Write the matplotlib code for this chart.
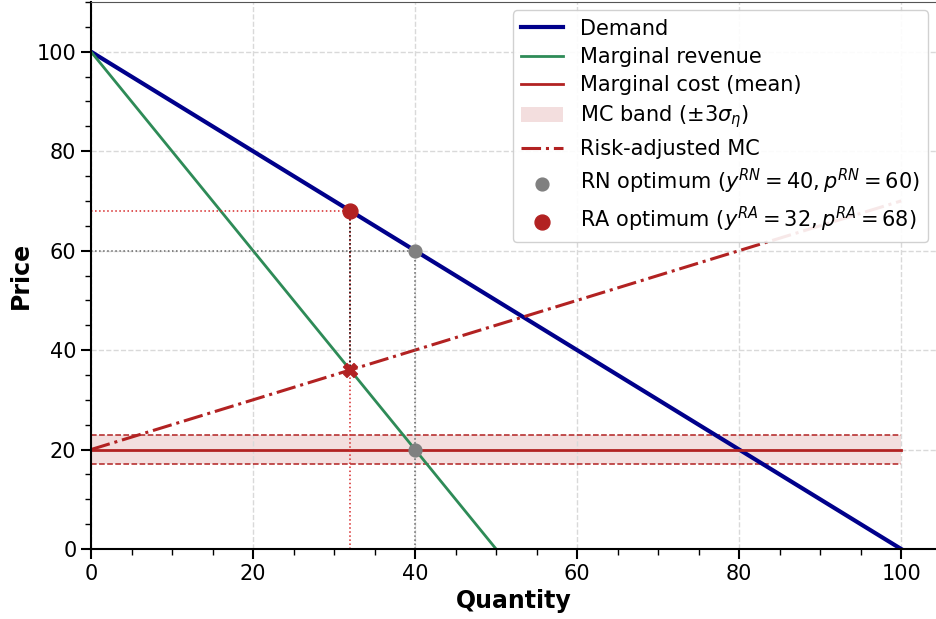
import numpy as np
import matplotlib.pyplot as plt
from matplotlib.ticker import AutoMinorLocator

# model values
y_demand = [0, 100]
p_demand = [100, 0]
y_mr = [0, 50]
p_mr = [100, 0]
y_mc = [0, 100]
mc_mean = [20, 20]
mc_low = [17, 17]
mc_high = [23, 23]
y_ramc = [0, 100]
p_ramc = [20, 70]

y_rn, p_rn, mr_rn = 40, 60, 20
y_ra, p_ra, mc_ra = 32, 68, 36

fig = plt.figure(figsize=(9.36, 6.19), dpi=100)
ax = fig.add_axes([91 / 936, 70 / 619, 845 / 936, 547 / 619])

ax.fill_between(y_mc, mc_low, mc_high, color='#b22222', alpha=0.15, lw=0,
                label=r'MC band ($\pm3\sigma_\eta$)')
ax.plot(y_mc, mc_low, color='#b22222', ls='--', lw=1.1)
ax.plot(y_mc, mc_high, color='#b22222', ls='--', lw=1.1)

ax.plot(y_demand, p_demand, color='#00008b', lw=3, label='Demand')
ax.plot(y_mr, p_mr, color='#2e8b57', lw=2, label='Marginal revenue')
ax.plot(y_mc, mc_mean, color='#b22222', lw=2, label='Marginal cost (mean)')
ax.plot(y_ramc, p_ramc, color='#b22222', lw=2.2, ls='-.', label='Risk-adjusted MC')

# guide lines
ax.plot([0, y_rn], [p_rn, p_rn], color='#666666', ls=':', lw=1.1)
ax.plot([y_rn, y_rn], [0, p_rn], color='#666666', ls=':', lw=1.1)
ax.plot([0, y_ra], [p_ra, p_ra], color='#d62728', ls=':', lw=1.1)
ax.plot([y_ra, y_ra], [0, p_ra], color='#d62728', ls=':', lw=1.1)
ax.plot([y_ra, y_ra], [mc_ra, p_ra], color='black', ls=':', lw=1.1)

ax.scatter([y_rn], [p_rn], s=85, color='gray', zorder=5,
           label=r'RN optimum ($y^{RN}=40, p^{RN}=60$)')
ax.scatter([y_rn], [mr_rn], s=85, color='gray', zorder=5)
ax.scatter([y_ra], [p_ra], s=115, color='#b22222', zorder=5,
           label=r'RA optimum ($y^{RA}=32, p^{RA}=68$)')
ax.scatter([y_ra], [mc_ra], s=100, color='#b22222', marker='X', zorder=5)

ax.set_xlim(0, 104.3)
ax.set_ylim(0, 110)
ax.set_xticks([0, 20, 40, 60, 80, 100])
ax.set_yticks([0, 20, 40, 60, 80, 100])
ax.xaxis.set_minor_locator(AutoMinorLocator(4))
ax.yaxis.set_minor_locator(AutoMinorLocator(4))
ax.tick_params(which='major', length=7, width=1.5, labelsize=15)
ax.tick_params(which='minor', length=4, width=1)
ax.grid(True, which='major', ls='--', color='#d9d9d9', lw=1)
ax.spines['left'].set_linewidth(1.5)
ax.spines['bottom'].set_linewidth(1.5)
ax.spines['top'].set_color('#555555')
ax.spines['right'].set_visible(False)

ax.set_xlabel('Quantity', fontsize=17, fontweight='bold', labelpad=4)
ax.set_ylabel('Price', fontsize=17, fontweight='bold', labelpad=3)

handles, labels = ax.get_legend_handles_labels()
order = [1, 2, 3, 0, 4, 5, 6]
ax.legend([handles[i] for i in order], [labels[i] for i in order],
          loc='upper right', fontsize=15, framealpha=0.9,
          borderaxespad=0.4, labelspacing=0.4)

fig.savefig('out.png', dpi=100)
